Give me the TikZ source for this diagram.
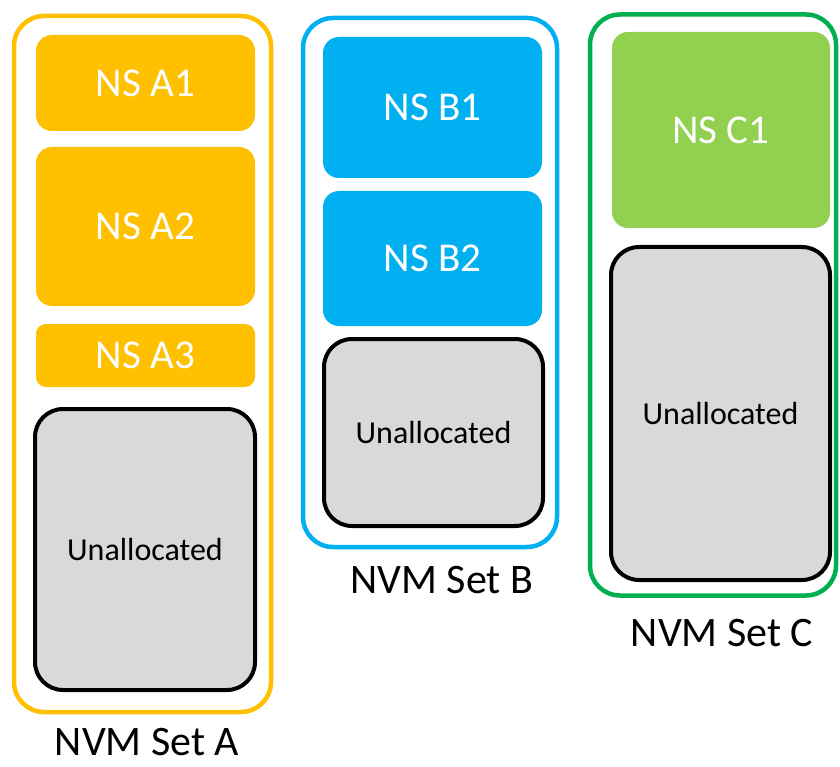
\documentclass[tikz,border=0pt]{standalone}
\usepackage{fontspec}
\setmainfont{Carlito}
\definecolor{cA}{HTML}{FFC000}
\definecolor{cB}{HTML}{00B0F0}
\definecolor{cC}{HTML}{00B050}
\definecolor{cCfill}{HTML}{92D050}
\definecolor{cGray}{HTML}{D9D9D9}
\tikzset{
  setbox/.style={draw=#1, line width=4.5pt, rounded corners=30pt, inner sep=0pt},
  nsbox/.style={fill=#1, rounded corners=16pt, inner sep=0pt, text=white, font=\fontsize{41}{49}\selectfont},
  unalloc/.style={fill=cGray, draw=black, line width=4pt, rounded corners=28pt, inner sep=0pt, font=\fontsize{32}{38}\selectfont},
  setlabel/.style={inner sep=0pt, font=\fontsize{42}{50}\selectfont}
}
\begin{document}
\begin{tikzpicture}[x=1pt,y=-1pt]
\useasboundingbox[fill=white] (0,0) rectangle (840,767);
% Set A
\node[setbox=cA, minimum width=257pt, minimum height=696pt] (setA) at (142.5,364) {};
\node[nsbox=cA, minimum width=219pt, minimum height=96pt] (a1) at (145.5,83) {NS A1};
\node[nsbox=cA, minimum width=219pt, minimum height=159pt] (a2) at (145.5,226.5) {NS A2};
\node[nsbox=cA, rounded corners=10pt, minimum width=219pt, minimum height=63pt] (a3) at (145.5,355.5) {NS A3};
\node[unalloc, minimum width=220pt, minimum height=281pt] (ua) at (145,549.5) {Unallocated};
\node[setlabel] (la) at (147,742) {NVM Set A};
% Set B
\node[setbox=cB, minimum width=254pt, minimum height=529pt] (setB) at (430,282.5) {};
\node[nsbox=cB, minimum width=219pt, minimum height=141pt] (b1) at (432.5,107.5) {NS B1};
\node[nsbox=cB, minimum width=219pt, minimum height=135pt] (b2) at (432.5,258.5) {NS B2};
\node[unalloc, minimum width=219pt, minimum height=187pt] (ub) at (433.5,432.5) {Unallocated};
\node[setlabel] (lb) at (442,580) {NVM Set B};
% Set C
\node[setbox=cC, minimum width=246pt, minimum height=581pt] (setC) at (713,305) {};
\node[nsbox=cCfill, minimum width=218pt, minimum height=196pt] (c1) at (721,130) {NS C1};
\node[unalloc, minimum width=219pt, minimum height=333pt] (uc) at (720.5,413.5) {Unallocated};
\node[setlabel] (lc) at (722,633) {NVM Set C};
\end{tikzpicture}
\end{document}
